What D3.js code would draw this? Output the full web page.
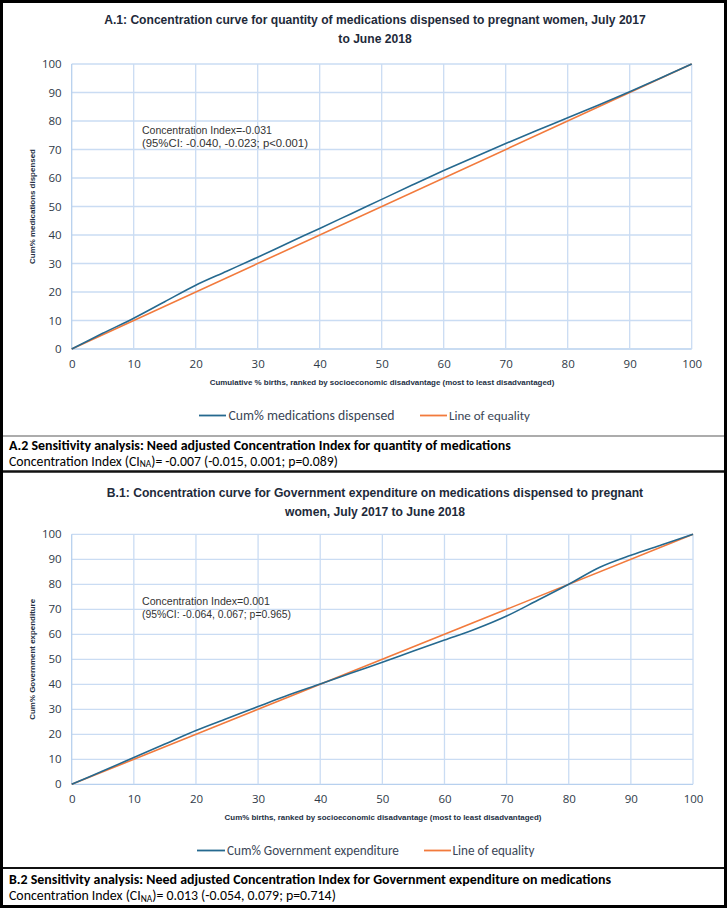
<!DOCTYPE html>
<html><head><meta charset="utf-8">
<script src="https://cdn.jsdelivr.net/npm/d3@7"></script>
<style>body{margin:0;background:#fff}svg{display:block}</style>
</head><body>
<svg id="c" width="727" height="908"></svg>
<script>
// ---------- data ----------
const xTicks = [0,10,20,30,40,50,60,70,80,90,100];
const yTicks = [0,10,20,30,40,50,60,70,80,90,100];
const birthsPct = [0,5,10,15,20,25,30,35,40,45,50,55,60,65,70,75,80,85,90,95,100];
const medsCum = [0,5.5,10.8,16.6,22.4,27.3,32.2,37.3,42.3,47.4,52.5,57.6,62.6,67.4,72.1,76.7,81.1,85.6,90.3,95.1,100];
const govCum  = [0,5.3,10.7,16.1,21.5,26.3,31.1,35.8,40.1,44.5,48.8,53.3,57.7,62.1,67.3,73.6,80.0,86.8,91.6,95.8,100];
const equalityX = [0,100];
const equalityY = [0,100];
const seriesNames = ["Cum% medications dispensed","Cum% Government expenditure","Line of equality"];

const svg = d3.select("#c");
const FONT = "'Liberation Sans', Arial, sans-serif";
const NARROW = "'Liberation Sans Narrow', 'Liberation Sans', Arial, sans-serif";
const CAL = "Carlito, 'Liberation Sans Narrow', 'Open Sans', sans-serif";
const BLUE = "#25698f", ORANGE = "#f27a3c", GRID = "#cadcf3";

function fit(t, width, base){
  t.style("font-size", base+"px");
  const w = t.node().getComputedTextLength();
  const s = base*width/w;
  t.style("font-size", s.toFixed(2)+"px");
  return s;
}

function panel(cfg){
  const g = svg.append("g");
  const x = d3.scaleLinear().domain([0,100]).range([cfg.left, cfg.right]);
  const y = d3.scaleLinear().domain([0,100]).range([cfg.bottom, cfg.top]);
  // title
  let tsize = 13;
  cfg.title.forEach((s,i)=>{
    const t = g.append("text").attr("x",375).attr("y",cfg.titleY[i]).attr("text-anchor","middle")
      .style("font-family",NARROW).style("font-weight","bold").attr("fill","#1e2a3a").text(s);
    if(i===0) tsize = fit(t, cfg.titleW, 13); else t.style("font-size", tsize.toFixed(2)+"px");
  });
  // grid
  g.append("g").selectAll("line.h").data(yTicks).join("line")
    .attr("x1",cfg.left).attr("x2",cfg.right).attr("y1",d=>y(d)).attr("y2",d=>y(d))
    .attr("stroke",d=>d===0?"#b7d0ee":GRID).attr("stroke-width",1.3);
  g.append("g").selectAll("line.v").data(xTicks).join("line")
    .attr("y1",cfg.top).attr("y2",cfg.bottom).attr("x1",d=>x(d)).attr("x2",d=>x(d))
    .attr("stroke",d=>d===0?"#b7d0ee":GRID).attr("stroke-width",1.3);
  // axes
  const ya = g.append("g").attr("transform",`translate(${cfg.left},0)`)
    .call(d3.axisLeft(y).tickValues(yTicks).tickSize(0).tickPadding(10));
  const xa = g.append("g").attr("transform",`translate(0,${cfg.bottom})`)
    .call(d3.axisBottom(x).tickValues(xTicks).tickSize(0).tickPadding(11));
  [ya,xa].forEach(a=>{
    a.select(".domain").remove();
    a.selectAll("text").style("font-family","'Open Sans', sans-serif").style("font-size","11.5px").attr("fill","#2f3a48");
  });
  // axis titles
  const xt = g.append("text").attr("x",cfg.xTitleX).attr("y",cfg.xTitleY).attr("text-anchor","middle")
    .style("font-family",NARROW).style("font-weight","bold").attr("fill","#243044").text(cfg.xTitle);
  fit(xt, cfg.xTitleW, 8);
  const yt = g.append("text").attr("transform",`translate(35,${(cfg.top+cfg.bottom)/2}) rotate(-90)`)
    .attr("text-anchor","middle").style("font-family",NARROW).style("font-weight","bold")
    .attr("fill","#243044").text(cfg.yTitle);
  fit(yt, cfg.yTitleW, 8);
  // lines
  const line = d3.line().x(d=>x(d[0])).y(d=>y(d[1]));
  g.append("path").datum(d3.zip(equalityX,equalityY)).attr("d",line)
    .attr("fill","none").attr("stroke",ORANGE).attr("stroke-width",1.6);
  g.append("path").datum(d3.zip(birthsPct,cfg.values)).attr("d",line.curve(d3.curveCatmullRom.alpha(0.5)))
    .attr("fill","none").attr("stroke",BLUE).attr("stroke-width",1.6);
  // annotation
  cfg.note.forEach((s,i)=>{
    const t = g.append("text").attr("x",142).attr("y",cfg.noteY+i*12.5)
      .style("font-family",FONT).attr("fill","#333").text(s);
    fit(t, cfg.noteW[i], 10.5);
  });
  // legend
  const lg = g.append("g");
  cfg.legend.forEach(l=>{
    lg.append("line").attr("x1",l.x1).attr("x2",l.x2).attr("y1",cfg.legendY).attr("y2",cfg.legendY)
      .attr("stroke",l.color).attr("stroke-width",1.8);
    const t = lg.append("text").attr("x",l.tx).attr("y",cfg.legendY+4.5)
      .style("font-family",CAL).attr("fill","#3a4656").text(l.name);
    fit(t, l.tw, 13);
  });
  // sensitivity text
  const b = g.append("text").attr("x",9).attr("y",cfg.sensY).style("font-family",CAL).style("font-weight","bold")
    .attr("fill","#000").text(cfg.sensTitle);
  fit(b, cfg.sensTitleW, 13);
  const n = g.append("text").attr("x",9).attr("y",cfg.sensY+cfg.sensGap).style("font-family",CAL).attr("fill","#000");
  n.append("tspan").text("Concentration Index (CI");
  n.append("tspan").attr("dy",1.5).style("font-size","0.68em").text("NA");
  n.append("tspan").attr("dy",-1.5).text(cfg.sensText);
  fit(n, cfg.sensTextW, 13);
}

panel({
  left:71.7, right:691.7, top:64, bottom:349,
  title:["A.1: Concentration curve for quantity of medications dispensed to pregnant women, July 2017","to June 2018"],
  titleY:[24,43], titleW:542,
  xTitle:"Cumulative % births, ranked by socioeconomic disadvantage (most to least disadvantaged)",
  xTitleX:382, xTitleY:384.5, xTitleW:345,
  yTitle:"Cum% medications dispensed", yTitleW:115,
  values: medsCum,
  note:["Concentration Index=-0.031","(95%CI: -0.040, -0.023; p<0.001)"], noteY:134, noteW:[130,166],
  legendY:415.5,
  legend:[{x1:199,x2:226,tx:228.5,tw:166,color:BLUE,name:seriesNames[0]},
          {x1:420,x2:447,tx:449,tw:81,color:ORANGE,name:seriesNames[2]}],
  sensY:449.5, sensGap:16, sensTitle:"A.2 Sensitivity analysis: Need adjusted Concentration Index for quantity of medications",
  sensTitleW:502, sensText:")= -0.007 (-0.015, 0.001; p=0.089)", sensTextW:329
});

panel({
  left:71.7, right:693, top:534.3, bottom:784.3,
  title:["B.1: Concentration curve for Government expenditure on medications dispensed to pregnant","women, July 2017 to June 2018"],
  titleY:[497,516], titleW:537,
  xTitle:"Cum% births, ranked by socioeconomic disadvantage (most to least disadvantaged)",
  xTitleX:383, xTitleY:820, xTitleW:317,
  yTitle:"Cum% Government expenditure", yTitleW:121,
  values: govCum,
  note:["Concentration Index=0.001","(95%CI: -0.064, 0.067; p=0.965)"], noteY:605, noteW:[128,149],
  legendY:850.5,
  legend:[{x1:197,x2:225,tx:227,tw:172,color:BLUE,name:seriesNames[1]},
          {x1:424,x2:451,tx:452.5,tw:82,color:ORANGE,name:seriesNames[2]}],
  sensY:884, sensGap:16, sensTitle:"B.2 Sensitivity analysis: Need adjusted Concentration Index for Government expenditure on medications",
  sensTitleW:602, sensText:")= 0.013 (-0.054, 0.079; p=0.714)", sensTextW:327
});

// frame & separators
svg.append("line").attr("x1",0).attr("x2",727).attr("y1",436).attr("y2",436).attr("stroke","#5a5a5a").attr("stroke-width",1.2);
svg.append("line").attr("x1",0).attr("x2",727).attr("y1",471.5).attr("y2",471.5).attr("stroke","#111").attr("stroke-width",2.5);
svg.append("line").attr("x1",0).attr("x2",727).attr("y1",868).attr("y2",868).attr("stroke","#111").attr("stroke-width",2.2);
svg.append("rect").attr("x",1.5).attr("y",1.5).attr("width",724).attr("height",905).attr("fill","none").attr("stroke","#000").attr("stroke-width",3);
</script>
</body></html>
